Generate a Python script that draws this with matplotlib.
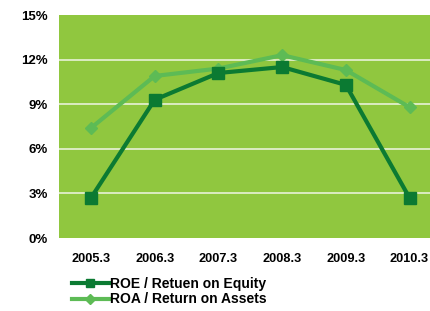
import matplotlib.pyplot as plt
from matplotlib.lines import Line2D

# fiscal year ends
years = ['2005.3', '2006.3', '2007.3', '2008.3', '2009.3', '2010.3']
roe = [2.7, 9.3, 11.1, 11.5, 10.3, 2.7]
roa = [7.4, 10.9, 11.4, 12.3, 11.3, 8.8]
yticks = [0, 3, 6, 9, 12, 15]

plt.rcParams['font.family'] = ['Liberation Sans', 'DejaVu Sans']

fig = plt.figure(figsize=(4.3, 3.11), dpi=100)
# axes runs a bit past the right edge, like the reference crop
ax = fig.add_axes([0.1375, 0.2347, 0.889, 0.717])
ax.set_facecolor('#90c73f')

x = list(range(len(years)))
ax.plot(x, roa, color='#5dbb55', lw=3.0, marker='D', ms=6.5, zorder=3)
ax.plot(x, roe, color='#0b7a32', lw=3.0, marker='s', ms=8, zorder=4)

ax.set_xlim(-0.5, 5.5)
ax.set_ylim(0, 15)
ax.set_yticks(yticks)
ax.set_yticklabels([f'{v}%' for v in yticks], fontsize=9.5, fontweight='bold')
ax.set_xticks(x)
ax.set_xticklabels(years, fontsize=9.2, fontweight='bold')
ax.tick_params(length=0)
ax.tick_params(axis='y', pad=8)
ax.tick_params(axis='x', pad=11)
for s in ax.spines.values():
    s.set_visible(False)
for v in [3, 6, 9, 12]:
    ax.axhline(v, color='#e8f2d8', lw=1.2, zorder=1)

handles = [
    Line2D([], [], color='#0b7a32', lw=3.0, marker='s', ms=6),
    Line2D([], [], color='#5dbb55', lw=3.0, marker='D', ms=5),
]
labels = ['ROE / Retuen on Equity', 'ROA / Return on Assets']
leg = fig.legend(handles, labels, loc='upper left', bbox_to_anchor=(0.167, 0.109),
                 frameon=False, prop={'size': 10, 'weight': 'bold'},
                 handlelength=2.66, handletextpad=0.1,
                 labelspacing=0.1, borderpad=0, borderaxespad=0)

fig.savefig('out.png', dpi=100)
